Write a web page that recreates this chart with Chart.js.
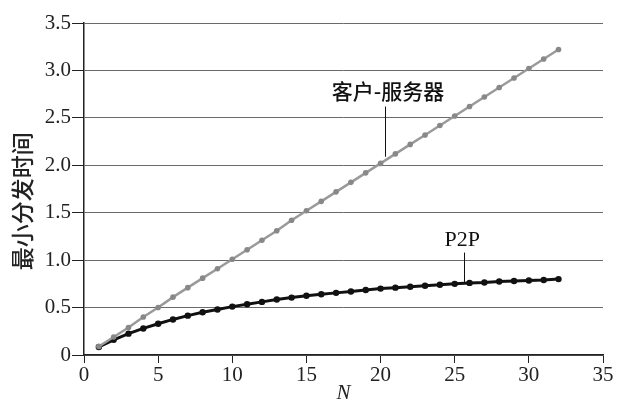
<!DOCTYPE html>
<html><head><meta charset="utf-8">
<script src="https://cdn.jsdelivr.net/npm/chart.js@4/dist/chart.umd.min.js"></script>
<style>html,body{margin:0;padding:0;background:#fff;}#wrap{width:617px;height:412px;}</style>
</head><body><div id="wrap"><canvas id="c" width="617" height="412"></canvas></div>
<script>
const N = [1,2,3,4,5,6,7,8,9,10,11,12,13,14,15,16,17,18,19,20,21,22,23,24,25,26,27,28,29,30,31,32];
const clientServer = [0.09,0.19,0.29,0.40,0.50,0.61,0.71,0.81,0.91,1.01,1.11,1.21,1.31,1.42,1.52,1.62,1.72,1.82,1.92,2.02,2.12,2.22,2.32,2.42,2.52,2.62,2.72,2.82,2.92,3.02,3.12,3.22];
const p2p = [0.085,0.16,0.225,0.28,0.33,0.375,0.415,0.45,0.48,0.51,0.535,0.56,0.585,0.605,0.625,0.64,0.655,0.67,0.685,0.70,0.71,0.72,0.73,0.74,0.75,0.76,0.765,0.775,0.78,0.785,0.79,0.80];
const seriesNames = ['客户-服务器','P2P'];
const yTitle = '最小分发时间';
const xTitle = 'N';

// label anchors in data units: text x, text y, leader x, leader top y, leader bottom y
const notes = [
  {text: seriesNames[0], font: '500 21px "Noto Sans CJK SC"', tx: 20.5, ty: 2.78, lx: 20.3, ly1: 2.62, ly2: 2.09},
  {text: seriesNames[1], font: '22px "Liberation Serif"', tx: 25.5, ty: 1.21, lx: 25.6, ly1: 1.08, ly2: 0.77}
];

const notePlugin = {
  id: 'notes',
  afterDatasetsDraw(chart) {
    const ctx = chart.ctx, xs = chart.scales.x, ys = chart.scales.y;
    ctx.save();
    notes.forEach(n => {
      ctx.font = n.font;
      ctx.fillStyle = '#111';
      ctx.textAlign = 'center';
      ctx.textBaseline = 'middle';
      ctx.fillText(n.text, xs.getPixelForValue(n.tx), ys.getPixelForValue(n.ty));
      ctx.strokeStyle = '#111';
      ctx.lineWidth = 1;
      ctx.beginPath();
      const x = Math.round(xs.getPixelForValue(n.lx)) + 0.5;
      ctx.moveTo(x, ys.getPixelForValue(n.ly1));
      ctx.lineTo(x, ys.getPixelForValue(n.ly2));
      ctx.stroke();
    });
    // y axis title, centred slightly below the middle of the value range as in the reference
    ctx.save();
    ctx.translate(22, ys.getPixelForValue(1.62));
    ctx.rotate(-Math.PI / 2);
    ctx.font = '500 23px "Noto Sans CJK SC"';
    ctx.fillStyle = '#222';
    ctx.textAlign = 'center';
    ctx.textBaseline = 'middle';
    ctx.fillText(yTitle, 0, 0);
    ctx.restore();
    ctx.restore();
  }
};

const pts = arr => N.map((n, i) => ({x: n, y: arr[i]}));

new Chart(document.getElementById('c'), {
  type: 'line',
  data: {
    datasets: [
      {label: seriesNames[0], data: pts(clientServer), borderColor: '#9a9a9a', backgroundColor: '#8a8a8a', borderWidth: 2.5, pointRadius: 2.8, pointBorderWidth: 0, pointBackgroundColor: '#888', tension: 0},
      {label: seriesNames[1], data: pts(p2p), borderColor: '#111', backgroundColor: '#111', borderWidth: 3, pointRadius: 3.2, pointBorderWidth: 0, pointBackgroundColor: '#111', tension: 0}
    ]
  },
  options: {
    responsive: false,
    animation: false,
    layout: {padding: {top: 23, right: 14, left: 0, bottom: 0}},
    plugins: {legend: {display: false}, tooltip: {enabled: false}},
    scales: {
      x: {
        type: 'linear', min: 0, max: 35,
        ticks: {stepSize: 5, color: '#222', font: {family: 'Liberation Serif', size: 21}, padding: 0, maxRotation: 0},
        grid: {drawOnChartArea: false, drawTicks: true, tickLength: 8, tickColor: '#222', tickWidth: 1},
        border: {color: '#222', width: 1.5},
        title: {display: true, text: xTitle, color: '#222', font: {family: 'Liberation Serif', size: 21, style: 'italic'}, padding: {top: 0, bottom: 6}},
        afterFit(s) { s.height = 57; }
      },
      y: {
        min: 0, max: 3.5,
        ticks: {stepSize: 0.5, color: '#222', font: {family: 'Liberation Serif', size: 21}, padding: 1,
          callback: v => v === 0 ? '0' : v.toFixed(1)},
        grid: {color: '#6a6a6a', lineWidth: 1, drawTicks: true, tickLength: 12, tickColor: '#222'},
        border: {color: '#222', width: 1.5},
        title: {display: false, text: yTitle},
        afterFit(s) { s.width = 84; }
      }
    }
  },
  plugins: [notePlugin]
});
</script></body></html>
